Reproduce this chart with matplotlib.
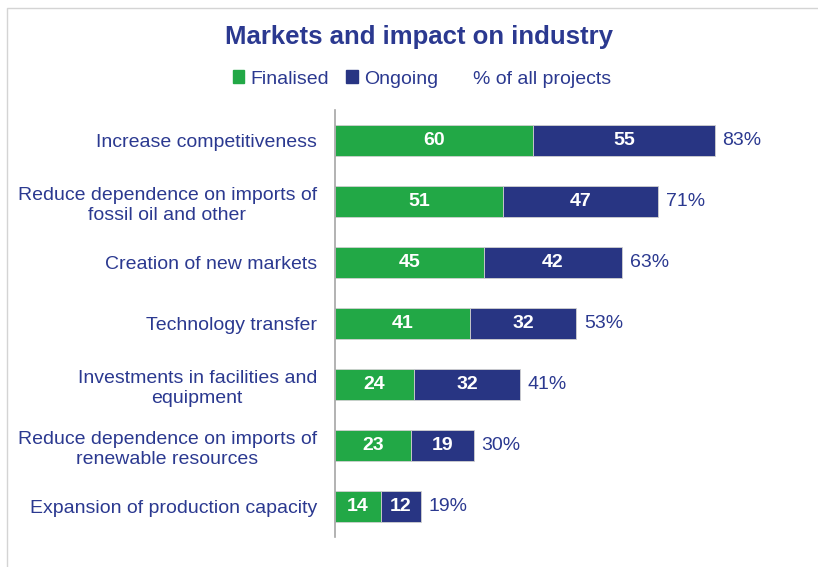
import matplotlib.pyplot as plt
from matplotlib.patches import Patch, Rectangle

plt.rcParams['font.family'] = ['Liberation Sans', 'DejaVu Sans']

# survey answers, top to bottom
categories = [
    'Increase competitiveness',
    'Reduce dependence on imports of\nfossil oil and other',
    'Creation of new markets',
    'Technology transfer',
    'Investments in facilities and\nequipment',
    'Reduce dependence on imports of\nrenewable resources',
    'Expansion of production capacity',
]
finalised = [60, 51, 45, 41, 24, 23, 14]
ongoing = [55, 47, 42, 32, 32, 19, 12]
share = [83, 71, 63, 53, 41, 30, 19]

GREEN = '#22a846'
NAVY = '#283583'
TEXT = '#2b3990'

fig = plt.figure(figsize=(8.18, 5.67), dpi=100)
ax = fig.add_axes([335 / 818, 1 - 537 / 567, 465 / 818, 427 / 567])

# light frame round the chart area
fig.patches.append(Rectangle((7 / 818, -0.1), 1.2, 1.1 - 8 / 567, transform=fig.transFigure,
                             fill=False, edgecolor='#d4d4d4', lw=1.0))

y = list(range(len(categories)))
ax.barh(y, finalised, height=0.51, color=GREEN, edgecolor='#d0d0d0', lw=0.6)
ax.barh(y, ongoing, left=finalised, height=0.51, color=NAVY, edgecolor='#d0d0d0', lw=0.6)

for i in y:
    ax.text(finalised[i] / 2, i, str(finalised[i]), ha='center', va='center',
            color='white', fontsize=14, fontweight='bold')
    ax.text(finalised[i] + ongoing[i] / 2, i, str(ongoing[i]), ha='center', va='center',
            color='white', fontsize=14, fontweight='bold')
    ax.text(finalised[i] + ongoing[i] + 2.4, i, f'{share[i]}%', ha='left', va='center',
            color=TEXT, fontsize=14)

ax.set_xlim(0, 140.9)
ax.set_ylim(len(categories) - 0.5, -0.5)
ax.set_yticks(y)
ax.set_yticklabels(categories, fontsize=14, color=TEXT, multialignment='center')
for lbl in ax.get_yticklabels():
    lbl.set_linespacing(1.25)
ax.tick_params(axis='y', length=0, pad=13)
ax.set_xticks([])
for side in ('top', 'right', 'bottom'):
    ax.spines[side].set_visible(False)
ax.spines['left'].set_color('#a6a6a6')
ax.spines['left'].set_linewidth(1.2)

fig.text(419 / 818, 1 - 37 / 567, 'Markets and impact on industry', ha='center', va='center',
         color=TEXT, fontsize=18.5, fontweight='bold')

handles = [Patch(color=GREEN), Patch(color=NAVY), Patch(color='none')]
leg = fig.legend(handles, ['Finalised', 'Ongoing', '% of all projects'], ncol=3,
                 loc='center', bbox_to_anchor=(422 / 818, 1 - 79 / 567), frameon=False,
                 fontsize=14, handlelength=0.6, handleheight=0.6, handletextpad=0.3,
                 columnspacing=0.9)
for t in leg.get_texts():
    t.set_color(TEXT)

fig.savefig('out.png', dpi=100)
